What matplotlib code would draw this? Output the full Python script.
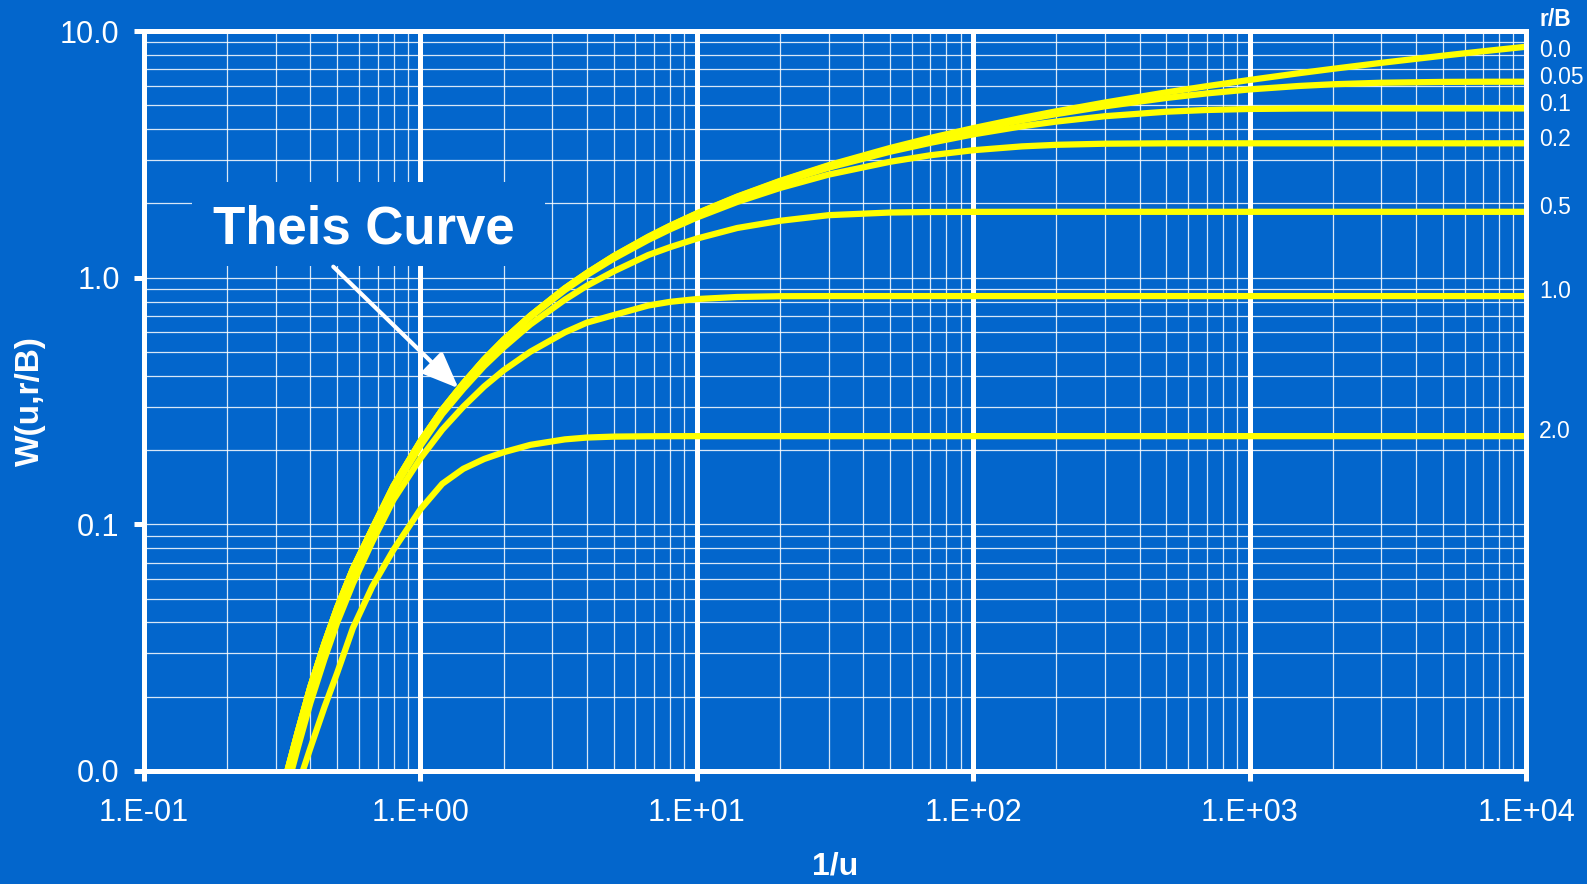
import matplotlib
matplotlib.use('Agg')
import matplotlib.pyplot as plt
from matplotlib.patches import Rectangle

# leaky aquifer type curves W(u, r/B) against 1/u
inv_u = [0.28, 0.33, 0.36, 0.4, 0.45, 0.5, 0.57, 0.67, 0.8, 1.0, 1.2, 1.43, 1.7, 2.0, 2.5,
         3.33, 4.0, 5.0, 6.67, 8.0, 10, 14, 20, 30, 50, 70, 100, 150, 200, 300, 500,
         700, 1000, 1500, 2000, 3000, 5000, 7000, 10000]

w_00 = [0.0049, 0.0100, 0.0144, 0.0220, 0.0330, 0.0460, 0.066, 0.096, 0.1435, 0.217,
        0.292, 0.373, 0.466, 0.560, 0.702, 0.906, 1.044, 1.223, 1.465, 1.623, 1.823,
        2.132, 2.468, 2.857, 3.355, 3.686, 4.038, 4.440, 4.726, 5.130, 5.639, 5.975,
        6.332, 6.737, 7.024, 7.430, 7.940, 8.277, 8.633]
w_005 = [0.0049, 0.0100, 0.0144, 0.0220, 0.0330, 0.0460, 0.066, 0.096, 0.1435, 0.217,
         0.292, 0.373, 0.466, 0.560, 0.701, 0.905, 1.043, 1.221, 1.462, 1.620, 1.818,
         2.125, 2.458, 2.841, 3.326, 3.645, 3.974, 4.347, 4.605, 4.952, 5.353, 5.585,
         5.796, 5.984, 6.082, 6.170, 6.217, 6.226, 6.228]
w_01 = [0.0049, 0.0100, 0.0144, 0.0219, 0.0329, 0.0459, 0.0659, 0.0958, 0.1432, 0.2165,
        0.291, 0.372, 0.464, 0.558, 0.700, 0.902, 1.039, 1.216, 1.454, 1.610, 1.805,
        2.105, 2.427, 2.792, 3.240, 3.521, 3.810, 4.108, 4.294, 4.514, 4.708, 4.784,
        4.829, 4.849, 4.853, 4.854, 4.854, 4.854, 4.854]
w_02 = [0.0048, 0.0099, 0.0143, 0.0219, 0.0328, 0.0457, 0.0657, 0.0955, 0.1425, 0.2155,
        0.290, 0.370, 0.461, 0.553, 0.693, 0.890, 1.024, 1.194, 1.422, 1.570, 1.753,
        2.027, 2.310, 2.617, 2.950, 3.135, 3.286, 3.406, 3.456, 3.492, 3.504, 3.505,
        3.505, 3.505, 3.505, 3.505, 3.505, 3.505, 3.505]
w_05 = [0.0048, 0.0098, 0.0141, 0.0214, 0.0321, 0.0449, 0.0644, 0.093, 0.1385, 0.208,
        0.280, 0.354, 0.438, 0.521, 0.646, 0.814, 0.927, 1.060, 1.235, 1.329, 1.440,
        1.590, 1.700, 1.792, 1.837, 1.846, 1.848, 1.849, 1.849, 1.849, 1.849, 1.849,
        1.849, 1.849, 1.849, 1.849, 1.849, 1.849, 1.849]
w_10 = [0.0042, 0.0086, 0.0124, 0.0189, 0.0285, 0.0400, 0.0575, 0.085, 0.126, 0.185,
        0.242, 0.300, 0.362, 0.421, 0.501, 0.600, 0.657, 0.705, 0.771, 0.798, 0.819,
        0.835, 0.841, 0.842, 0.842, 0.842, 0.842, 0.842, 0.842, 0.842, 0.842, 0.842,
        0.842, 0.842, 0.842, 0.842, 0.842, 0.842, 0.842]
w_20 = [0.0034, 0.0064, 0.0087, 0.0124, 0.0182, 0.025, 0.038, 0.056, 0.079, 0.115,
        0.146, 0.168, 0.184, 0.196, 0.210, 0.221, 0.2248, 0.2268, 0.2275, 0.2277, 0.2278,
        0.2278, 0.2278, 0.2278, 0.2278, 0.2278, 0.2278, 0.2278, 0.2278, 0.2278, 0.2278,
        0.2278, 0.2278, 0.2278, 0.2278, 0.2278, 0.2278, 0.2278, 0.2278]

curves = [w_00, w_005, w_01, w_02, w_05, w_10, w_20]
rb_labels = ['0.0', '0.05', '0.1', '0.2', '0.5', '1.0', '2.0']

x_ticks = [0.1, 1, 10, 100, 1000, 10000]
x_ticklabels = ['1.E-01', '1.E+00', '1.E+01', '1.E+02', '1.E+03', '1.E+04']
y_ticks = [0.01, 0.1, 1, 10]
y_ticklabels = ['0.0', '0.1', '1.0', '10.0']

blue = '#0366CC'
yellow = '#FFFF00'
plt.rcParams['font.family'] = ['Liberation Sans', 'DejaVu Sans']

fig = plt.figure(figsize=(15.87, 8.84), dpi=100, facecolor=blue)
ax = fig.add_axes([144 / 1587, 1 - 771 / 884, 1382 / 1587, 740 / 884])
ax.set_facecolor(blue)
ax.set_xscale('log')
ax.set_yscale('log')
ax.set_xlim(0.1, 10000)
ax.set_ylim(0.01, 10)

ax.grid(which='minor', color='white', lw=0.9, alpha=0.85)
ax.grid(which='major', axis='y', color='white', lw=0.9, alpha=0.85)
ax.grid(which='major', axis='x', color='white', lw=3.6)

for side in ['left', 'right', 'top', 'bottom']:
    ax.spines[side].set_color('white')
    ax.spines[side].set_linewidth(3.6)

ax.set_xticks(x_ticks)
ax.set_xticklabels(x_ticklabels)
ax.set_yticks(y_ticks)
ax.set_yticklabels(y_ticklabels)
ax.tick_params(which='major', direction='out', length=7.5, width=3.6, color='white',
               labelcolor='white', labelsize=22)
ax.tick_params(axis='x', pad=12)
ax.tick_params(axis='y', pad=10)
ax.tick_params(which='minor', length=0)

for w, lab in zip(curves, rb_labels):
    ax.plot(inv_u, w, color=yellow, lw=4.5, solid_capstyle='butt',
            solid_joinstyle='round', zorder=2)
    dy = -3 if lab == '0.0' else 3
    ax.annotate(lab, xy=(inv_u[-1], w[-1]), xytext=(9.5, dy), textcoords='offset points',
                color='white', fontsize=16.5, ha='left', va='center', annotation_clip=False)

ax.annotate('r/B', xy=(1, 1), xycoords='axes fraction', xytext=(9.5, 8),
            textcoords='offset points', color='white', fontsize=16.5, fontweight='bold',
            ha='left', va='center')

ax.set_xlabel('1/u', color='white', fontsize=23, fontweight='bold', labelpad=17)
ax.set_ylabel('W(u,r/B)', color='white', fontsize=24, fontweight='bold', labelpad=10)

# label box for the Theis curve, covering the grid behind it
ax.add_patch(Rectangle((0.0347, 0.6824), 0.2555, 0.1135, transform=ax.transAxes,
                       facecolor=blue, edgecolor='none', zorder=3))
ax.text(0.1588, 0.7135, 'Theis Curve', transform=ax.transAxes, color='white',
        fontsize=38, fontweight='bold', ha='center', va='baseline', zorder=4)
ax.annotate('', xy=(1.374, 0.356), xytext=(0.484, 1.108),
            arrowprops=dict(arrowstyle='-|>,head_length=1.1,head_width=0.45',
                            mutation_scale=20, color='white', lw=3, shrinkA=0, shrinkB=0),
            zorder=4)

fig.savefig('out.png', dpi=100, facecolor=blue)
